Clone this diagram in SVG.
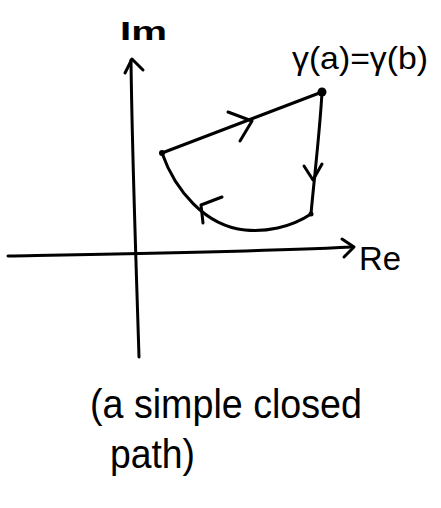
<svg xmlns="http://www.w3.org/2000/svg" width="441" height="508" viewBox="0 0 441 508">
<style>
.ln{fill:none;stroke:#000;stroke-width:3;stroke-linecap:round;stroke-linejoin:round}
.t{font-family:"Liberation Sans","DejaVu Sans",sans-serif;fill:#000}
</style>
<rect width="441" height="508" fill="#fff"/>
<g id="axes">
<path class="ln" d="M8,256 C120,254 250,252 352,247"/>
<path class="ln" d="M342,239 L354,247 L344,257"/>
<path class="ln" d="M131,60 C132,150 136,260 139,357"/>
<path class="ln" d="M125,73 L132,59 L143,70"/>
</g>
<g id="label-im"><text class="t" x="120" y="40" font-size="26" font-weight="bold" textLength="47" lengthAdjust="spacingAndGlyphs">Im</text></g>
<g id="label-re"><text class="t" x="359" y="270" font-size="34" textLength="42" lengthAdjust="spacingAndGlyphs">Re</text></g>
<g id="connectors">
<path class="ln" d="M162,153 L322,92"/>
<path class="ln" d="M322,92 C320,130 314,180 311,214"/>
<path class="ln" d="M311,214 C290,228 265,232 245,230 C205,226 175,190 162,153"/>
<path class="ln" d="M228,112 L252,121 L240,141"/>
<path class="ln" d="M304,166 L313,180 L322,164"/>
<path class="ln" d="M222,197 L201,205 L203,223"/>
</g>
<g id="node-start"><circle cx="322" cy="92" r="4.5" fill="#000"/></g>
<g id="node-left"><circle cx="162" cy="153" r="3" fill="#000"/></g>
<g id="node-bottom"><circle cx="311" cy="214" r="2.5" fill="#000"/></g>
<g id="label-gamma"><text class="t" x="292" y="69" font-size="32" textLength="136" lengthAdjust="spacingAndGlyphs">γ(a)=γ(b)</text></g>
<g id="caption">
<text class="t" x="90" y="418" font-size="40" textLength="272" lengthAdjust="spacingAndGlyphs">(a simple closed</text>
<text class="t" x="110" y="468" font-size="40" textLength="85" lengthAdjust="spacingAndGlyphs">path)</text>
</g>
</svg>
